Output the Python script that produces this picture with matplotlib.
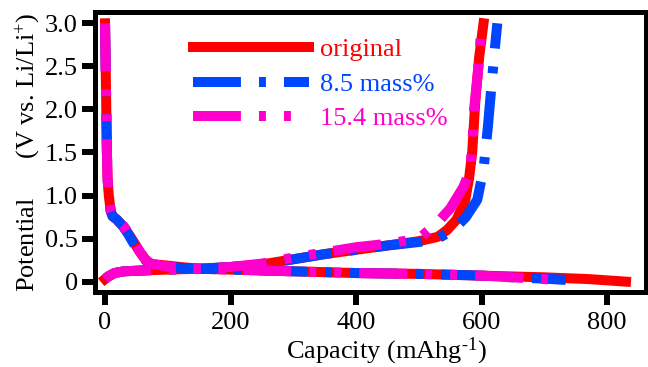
import numpy as np
import matplotlib
matplotlib.use("Agg")
import matplotlib.pyplot as plt

plt.rcParams['font.family'] = ['Liberation Serif', 'DejaVu Serif']
plt.rcParams['mathtext.fontset'] = 'custom'
plt.rcParams['mathtext.rm'] = 'Liberation Serif'
plt.rcParams['mathtext.it'] = 'Liberation Serif'
plt.rcParams['lines.scale_dashes'] = False

# discharge curves (3.0 V -> 0 V)
cap_dis_orig = [0, 1, 2, 3, 4, 6, 9, 12, 19, 29, 37, 45, 55, 64, 72, 80, 95, 120, 150, 200,
                300, 400, 500, 600, 700, 770, 830]
v_dis_orig = [3.0, 2.5, 2.0, 1.5, 1.2, 1.0, 0.82, 0.76, 0.72, 0.64, 0.56, 0.47, 0.35, 0.26, 0.21,
              0.2, 0.19, 0.17, 0.15, 0.14, 0.12, 0.1, 0.09, 0.07, 0.05, 0.03, 0.0]
cap_dis_85 = [0, 1, 2, 3, 4, 6, 9, 12, 19, 29, 37, 45, 55, 64, 72, 80, 95, 120, 150, 200,
              300, 400, 500, 600, 650, 700, 734]
v_dis_85 = [3.0, 2.5, 2.0, 1.5, 1.2, 1.0, 0.82, 0.76, 0.72, 0.64, 0.55, 0.45, 0.33, 0.25, 0.21,
            0.2, 0.18, 0.16, 0.15, 0.14, 0.12, 0.1, 0.09, 0.07, 0.05, 0.035, 0.02]
cap_dis_154 = [0, 1, 2, 3, 4, 6, 9, 12, 19, 29, 37, 45, 55, 64, 72, 80, 95, 120, 150, 200,
               300, 400, 500, 600, 650, 700, 725]
v_dis_154 = [3.0, 2.5, 2.0, 1.5, 1.2, 1.0, 0.82, 0.76, 0.72, 0.65, 0.57, 0.47, 0.35, 0.26, 0.21,
             0.2, 0.18, 0.16, 0.15, 0.14, 0.12, 0.1, 0.09, 0.07, 0.05, 0.03, 0.01]

# charge curves (0 V -> 3.0 V)
cap_chg_orig = [0, 5, 15, 30, 60, 100, 150, 200, 250, 300, 350, 400, 450, 500, 530, 545, 560,
                574, 580, 585, 590, 596, 603]
v_chg_orig = [0.03, 0.06, 0.1, 0.12, 0.13, 0.14, 0.15, 0.17, 0.2, 0.26, 0.32, 0.37, 0.42, 0.47,
              0.52, 0.6, 0.72, 0.95, 1.2, 1.5, 2.1, 2.6, 3.0]
cap_chg_85 = [0, 5, 15, 30, 60, 100, 150, 200, 250, 300, 350, 400, 450, 500, 530, 555, 575,
              593, 603, 610, 616, 621, 625]
v_chg_85 = [0.03, 0.06, 0.1, 0.12, 0.13, 0.14, 0.15, 0.17, 0.2, 0.26, 0.32, 0.37, 0.42, 0.46,
            0.5, 0.6, 0.75, 0.95, 1.3, 1.8, 2.3, 2.7, 3.0]
cap_chg_154 = [0, 5, 15, 30, 60, 100, 150, 200, 250, 300, 350, 400, 450, 500, 529, 550, 571,
               582, 586, 588, 595, 600]
v_chg_154 = [0.03, 0.06, 0.1, 0.12, 0.13, 0.14, 0.15, 0.17, 0.21, 0.28, 0.34, 0.4, 0.44, 0.5,
             0.68, 0.85, 1.1, 1.3, 1.7, 2.0, 2.5, 3.0]

labels = ['original', '8.5 mass%', '15.4 mass%']
colors = ['#ff0000', '#0046ff', '#ff00cc']
styles = ['-', (0, (34.5, 13, 5, 13)), (0, (34.5, 13, 5, 13, 5, 13))]

fig = plt.figure(figsize=(6.48, 3.67), dpi=100)
ax = fig.add_axes([0.1466, 0.2044, 0.8504, 0.7626])

lw = 7.2
curves = [(cap_dis_orig, v_dis_orig, cap_chg_orig, v_chg_orig),
          (cap_dis_85, v_dis_85, cap_chg_85, v_chg_85),
          (cap_dis_154, v_dis_154, cap_chg_154, v_chg_154)]
handles = []
for (cd, vd, cc, vc), lab, col, ls in zip(curves, labels, colors, styles):
    h, = ax.plot(cd, vd, color=col, lw=lw, ls=ls, label=lab)
    ax.plot(cc, vc, color=col, lw=lw, ls=ls)
    handles.append(h)

ax.set_xlim(-16, 862)
ax.set_ylim(-0.12, 3.13)
ax.set_xticks([0, 200, 400, 600, 800])
ax.set_yticks([0, 0.5, 1.0, 1.5, 2.0, 2.5, 3.0])
ax.set_yticklabels(['0', '0.5', '1.0', '1.5', '2.0', '2.5', '3.0'])
for s in ax.spines.values():
    s.set_linewidth(3.6)
ax.tick_params(axis='both', direction='out', length=9.5, width=4.3, labelsize=19, pad=3)
ax.tick_params(axis='x', pad=5)

ax.set_xlabel('Capacity (mAhg$^{\\text{-1}}$)', fontsize=19)
ax.xaxis.set_label_coords(0.528, -0.155)
ax.set_ylabel('Potential      (V vs. Li/Li$^{+}$)', fontsize=19)
ax.yaxis.set_label_coords(-0.096, 0.498)

leg = ax.legend(handles=handles, loc='upper left', bbox_to_anchor=(0.159, 0.946), frameon=False,
                fontsize=19, handlelength=4.4, handletextpad=0.4, labelspacing=0.42,
                labelcolor='linecolor', borderaxespad=0)

fig.savefig('out.png', dpi=100)
